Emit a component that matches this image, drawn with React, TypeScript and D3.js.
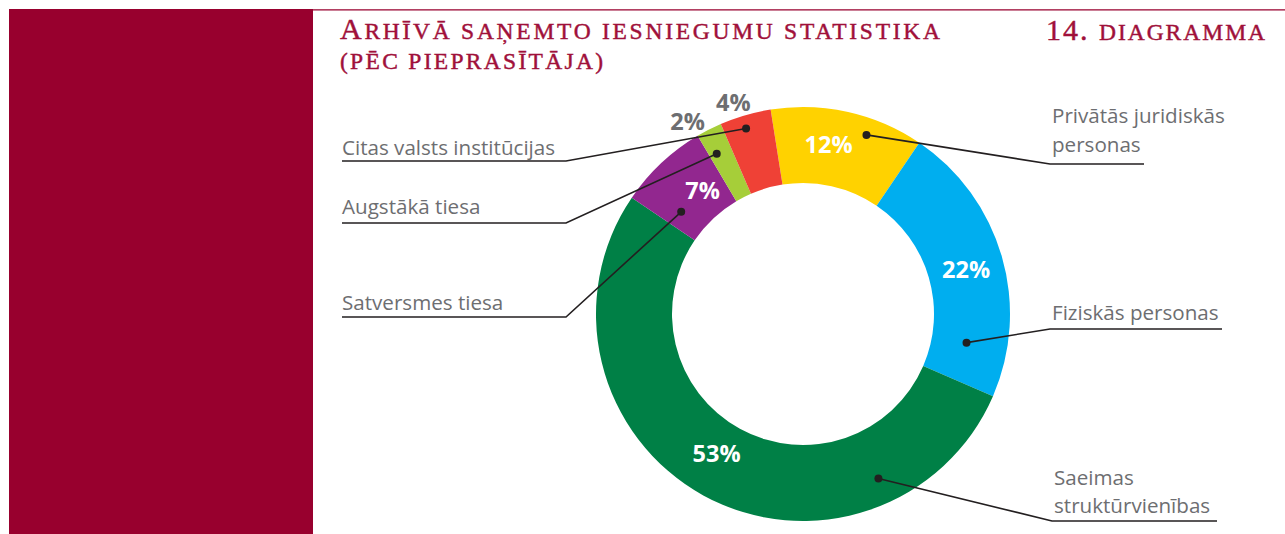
import React from "react";
import * as d3 from "d3";

const categories = [
  "Privātās juridiskās personas",
  "Fiziskās personas",
  "Saeimas struktūrvienības",
  "Satversmes tiesa",
  "Augstākā tiesa",
  "Citas valsts institūcijas",
];
const values = [12, 22, 53, 7, 2, 4];
const labelLines = [
  ["Privātās juridiskās", "personas"],
  ["Fiziskās personas"],
  ["Saeimas", "struktūrvienības"],
  ["Satversmes tiesa"],
  ["Augstākā tiesa"],
  ["Citas valsts institūcijas"],
];
const colors = ["#FFD200", "#00AEEF", "#008046", "#92278F", "#A6CE39", "#EF4136"];

// layout of leaders / labels (positions, not data)
const leaders = [
  { frac: 0.66, r: 190, side: "right", uy: 164, x0: 1050, x1: 1144, base: [123, 152], lr: 171, shift: -4 },
  { frac: 0.83, r: 166, side: "right", uy: 329, x0: 1050, x1: 1222, base: [320], lr: 169, shift: 1 },
  { frac: 0.22, r: 181, side: "right", uy: 521, x0: 1052, x1: 1217, base: [485, 513], lr: 164, shift: 3 },
  { frac: 0.23, r: 159, side: "left", uy: 317, x0: 342, x1: 566, base: [310], lr: 159, shift: 4 },
  { frac: 0.32, r: 182, side: "left", uy: 223, x0: 342, x1: 566, base: [214], lr: 224, shift: -4 },
  { frac: 0.44, r: 194, side: "left", uy: 161, x0: 342, x1: 566, base: [155], lr: 223, shift: -2 },
];

const W = 1285;
const H = 534;
const cx = 803;
const cy = 314;
const R = 207;
const r0 = 131;
const maroon = "#98002E";
const grey = "#6D6E71";
const ink = "#231F20";
const titleCol = "#A0103A";

export default function App() {
  const start = (-9 * Math.PI) / 180;
  const pie = d3
    .pie<number>()
    .sort(null)
    .value((d) => d)
    .startAngle(start)
    .endAngle(start + 2 * Math.PI);
  const arcs = pie(values);
  const arc = d3.arc<d3.PieArcDatum<number>>().innerRadius(r0).outerRadius(R);

  const polar = (a: number, rad: number): [number, number] => [
    cx + rad * Math.sin(a),
    cy - rad * Math.cos(a),
  ];

  return (
    <svg
      width={W}
      height={H}
      style={{ position: "absolute", left: 0, top: 0, background: "#fff" }}
    >
      <rect x={9} y={9} width={304} height={H - 9} fill={maroon} />
      <line x1={313} x2={W} y1={9.8} y2={9.8} stroke={maroon} strokeWidth={1.3} />

      <g
        fill={titleCol}
        stroke={titleCol}
        strokeWidth={0.45}
        fontFamily="'Liberation Serif', serif"
      >
        <text x={340} y={39} textLength={600} lengthAdjust="spacing">
          <tspan fontSize={30}>A</tspan>
          <tspan fontSize={23.5}>RHĪVĀ SAŅEMTO IESNIEGUMU STATISTIKA</tspan>
        </text>
        <text x={340} y={69} textLength={263} lengthAdjust="spacing" fontSize={23.5}>
          (PĒC PIEPRASĪTĀJA)
        </text>
        <text x={1046} y={40} textLength={219} lengthAdjust="spacing">
          <tspan fontSize={30}>14. </tspan>
          <tspan fontSize={23.5}>DIAGRAMMA</tspan>
        </text>
      </g>

      <g transform={`translate(${cx},${cy})`}>
        {arcs.map((a, i) => (
          <path key={categories[i]} d={arc(a) || ""} fill={colors[i]} />
        ))}
      </g>

      {arcs.map((a, i) => {
        const L = leaders[i];
        const ang = a.startAngle + (a.endAngle - a.startAngle) * L.frac;
        const [dx, dy] = polar(ang, L.r);
        const pts =
          L.side === "right"
            ? [[dx, dy], [L.x0, L.uy], [L.x1, L.uy]]
            : [[dx, dy], [L.x1, L.uy], [L.x0, L.uy]];
        const tx = L.side === "right" ? L.x0 + 2 : L.x0;
        return (
          <g key={"lead" + i}>
            <polyline
              points={pts.map((p) => p.join(",")).join(" ")}
              fill="none"
              stroke={ink}
              strokeWidth={1.6}
            />
            <circle cx={dx} cy={dy} r={4} fill={ink} />
            {labelLines[i].map((ln, j) => (
              <text
                key={j}
                x={tx}
                y={L.base[j]}
                fontFamily="'Open Sans', sans-serif"
                fontSize={20.6}
                fill={grey}
              >
                {ln}
              </text>
            ))}
          </g>
        );
      })}

      {arcs.map((a, i) => {
        const L = leaders[i];
        const mid = (a.startAngle + a.endAngle) / 2 + (L.shift * Math.PI) / 180;
        const [lx, ly] = polar(mid, L.lr);
        const outside = L.lr > R;
        return (
          <text
            key={"pct" + i}
            x={lx}
            y={ly}
            dy="0.36em"
            textAnchor="middle"
            fontFamily="'Open Sans', sans-serif"
            fontWeight={700}
            fontSize={23.5}
            fill={outside ? grey : "#fff"}
          >
            {values[i]}%
          </text>
        );
      })}
    </svg>
  );
}
